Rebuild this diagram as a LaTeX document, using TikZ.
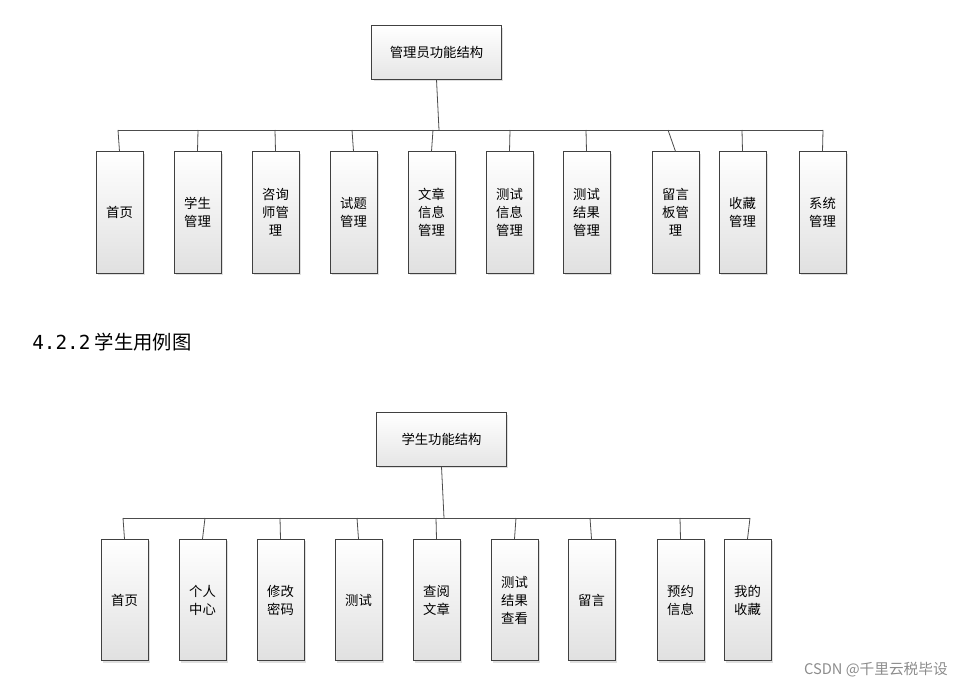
\documentclass[tikz,border=0pt]{standalone}
\usepackage{fontspec}
\setmainfont{Noto Sans CJK SC}
\newfontfamily\headmono{DejaVu Sans Mono}
\usetikzlibrary{shadows}
\begin{document}
\begin{tikzpicture}[x=0.75pt,y=-0.75pt,
  box/.style={draw=black!75,line width=0.6pt,top color=white,bottom color=black!12,
    drop shadow={shadow xshift=1.5pt,shadow yshift=-1.5pt,opacity=0.25},
    minimum width=35.25pt,minimum height=91pt,align=center,font=\fontsize{10pt}{13.5pt}\selectfont,inner sep=0pt},
  root/.style={draw=black!75,line width=0.6pt,top color=white,bottom color=black!10,
    drop shadow={shadow xshift=1.5pt,shadow yshift=-1.5pt,opacity=0.25},
    minimum width=97pt,minimum height=40pt,font=\fontsize{10pt}{12pt}\selectfont},
  ln/.style={draw=black!70,line width=0.6pt}]
\useasboundingbox (0,0) rectangle (953,688);
% top diagram
\node[root] (r1) at (436.5,52.5) {管理员功能结构};
\coordinate (b1) at (439,130);
\draw[ln] (r1.south) -- (b1);
\draw[ln] (118,130) -- (823,130);
\foreach \n/\x/\t/\txt in {a/119.5/118/首页, b/197.5/198/学生\\管理, c/275.5/275/咨询\\师管\\理, d/353.5/352/试题\\管理, e/431.5/433/文章\\信息\\管理, f/509.5/510/测试\\信息\\管理, g/586.5/586/测试\\结果\\管理, h/675.5/668/留言\\板管\\理, i/742.5/742/收藏\\管理, j/822.5/823/系统\\管理}{
  \node[box] (t\n) at (\x,212.5) {\txt};
  \coordinate (u\n) at (\t,130);
  \draw[ln] (u\n) -- (t\n.north);
}
% heading
\node[anchor=west,font=\fontsize{14.5pt}{18pt}\selectfont,inner sep=0pt] (h) at (32,342) {{\headmono 4.2.2} 学生用例图};
% bottom diagram
\node[root] (r2) at (441.5,439.5) {学生功能结构};
\coordinate (b2) at (444,518);
\draw[ln] (r2.south) -- (b2);
\draw[ln] (123,518) -- (750,518);
\foreach \n/\x/\t/\txt in {a/124.5/123/首页, b/202.5/205/个人\\中心, c/280.5/280/修改\\密码, d/358.5/357/测试, e/436.5/436/查阅\\文章, f/514.5/516/测试\\结果\\查看, g/591.5/590/留言, h/680.5/680/预约\\信息, i/747.5/750/我的\\收藏}{
  \node[box] (s\n) at (\x,600) {\txt};
  \coordinate (v\n) at (\t,518);
  \draw[ln] (v\n) -- (s\n.north);
}
\node[anchor=east,text=black!45,font=\fontsize{11pt}{13pt}\selectfont,inner sep=0pt] (w) at (948,670) {CSDN @千里云税毕设};
\end{tikzpicture}
\end{document}
